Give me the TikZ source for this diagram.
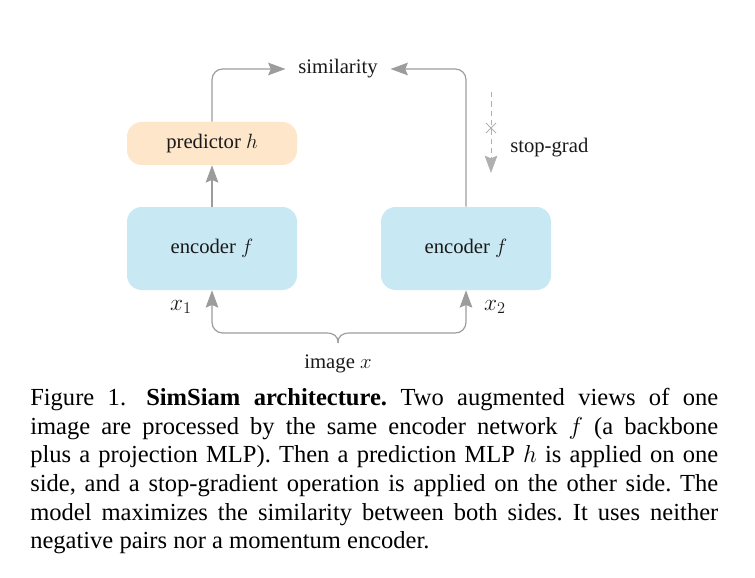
\RequirePackage{fix-cm}
\documentclass[tikz,border=0pt]{standalone}
\usepackage{fontspec}
\setmainfont{Liberation Serif}
\usetikzlibrary{arrows.meta}
\definecolor{predfill}{HTML}{FDE6CA}
\definecolor{encfill}{HTML}{C8E8F3}
\definecolor{linegray}{HTML}{9C9C9C}
\definecolor{dashgray}{HTML}{B0B0B0}
\begin{document}
\begin{tikzpicture}[x=0.75pt,y=-0.75pt,
  lbl/.style={inner sep=0pt, font=\fontsize{15.5}{18}\selectfont, text=black!90},
  mlbl/.style={inner sep=0pt, font=\fontsize{17.5}{20}\selectfont, text=black!90},
  encbox/.style={lbl, fill=encfill, rounded corners=11pt, minimum width=127.5pt, minimum height=62.25pt},
  predbox/.style={lbl, fill=predfill, rounded corners=11pt, minimum width=127.5pt, minimum height=32.25pt},
  conn/.style={draw=linegray, line width=0.9pt, -{Stealth[length=13pt,width=9.5pt,inset=2pt]}},
  dconn/.style={draw=dashgray, line width=0.7pt, dash pattern=on 4pt off 3pt, -{Stealth[length=13pt,width=9.5pt,inset=2pt]}}
]
\useasboundingbox (0,0) rectangle (755,577);
% nodes
\node[encbox] (enc1) at (212,248.5) {encoder $f$};
\node[encbox] (enc2) at (466,248.5) {encoder $f$};
\node[predbox] (pred) at (212,143.5) {predictor $h$};
\node[lbl] (sim) at (338,69) {similarity};
\node[mlbl] (x1) at (181,307) {$x_1$};
\node[mlbl] (x2) at (495,307) {$x_2$};
\node[lbl] (img) at (338,364) {image $x$};
\node[lbl, anchor=west] (sg) at (510,148) {stop-grad};
\coordinate (sgtop) at (491,92);
\coordinate (sgbot) at (491,173);
\coordinate (brace) at (338,343);
% connectors
\draw[conn] (enc1.north) -- (pred.south);
\draw[conn, rounded corners=8pt, shorten >=9.5pt] (pred.north) |- (sim.west);
\draw[conn, rounded corners=8pt, shorten >=9.5pt] (enc2.north) |- (sim.east);
\draw[conn] (brace) .. controls (338,336) and (334,333) .. (326,333) [rounded corners=8pt] -- (212,333) -- (enc1.south);
\draw[conn] (brace) .. controls (338,336) and (342,333) .. (350,333) [rounded corners=8pt] -- (466,333) -- (enc2.south);
\draw[dconn] (sgtop) -- (sgbot);
\draw[draw=dashgray, line width=0.7pt] (486,123) -- (496,133) (486,133) -- (496,123);
% caption
\node[anchor=north west, inner sep=0pt, text width=516pt, align=justify,
      font=\fontsize{18.4}{21.5}\selectfont\frenchspacing] (cap) at (30,388)
{Figure 1.\hspace{5pt} \textbf{SimSiam architecture.} Two augmented views of one\linebreak
image are processed by the same encoder network $f$ (a backbone\linebreak
plus a projection MLP). Then a prediction MLP $h$ is applied on one\linebreak
side, and a stop-gradient operation is applied on the other side. The\linebreak
model maximizes the similarity between both sides. It uses neither\linebreak
negative pairs nor a momentum encoder.};
\end{tikzpicture}
\end{document}
